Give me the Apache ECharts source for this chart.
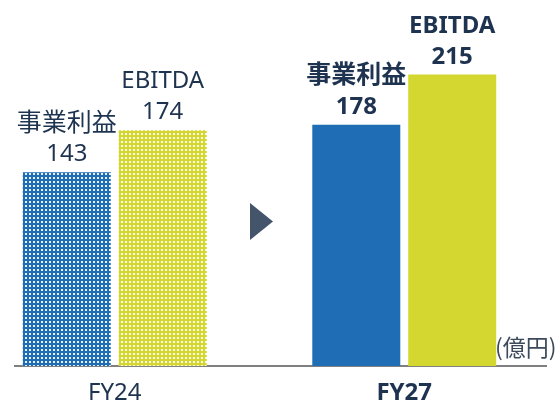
<!DOCTYPE html>
<html>
<head>
<meta charset="utf-8">
<title>事業利益 / EBITDA</title>
<script src="https://cdn.jsdelivr.net/npm/echarts@6/dist/echarts.min.js"></script>
<style>
  html, body { margin: 0; padding: 0; background: #fff; }
  #main { width: 558px; height: 402px; }
</style>
</head>
<body>
<div id="main"></div>
<script>
  // data
  var categories = ['FY24', 'FY27'];
  var opProfit = [143, 178];   // 事業利益
  var ebitda = [174, 215];     // EBITDA
  var unitText = '(億円)';

  var textColor = '#1e3350';
  var blue = '#1f6db5';
  var yellow = '#d4d72f';

  // dotted fill for the FY24 bars
  function dots(color) {
    var c = document.createElement('canvas');
    c.width = 4; c.height = 4;
    var ctx = c.getContext('2d');
    ctx.fillStyle = color;
    ctx.fillRect(0, 0, 4, 4);
    ctx.fillStyle = 'rgba(255,255,255,0.9)';
    ctx.fillRect(1, 1, 2, 2);
    return { image: c, repeat: 'repeat' };
  }

  function items(values, color) {
    return values.map(function (v, i) {
      var first = i === 0;
      return {
        value: v,
        itemStyle: { color: first ? dots(color) : color },
        label: { fontWeight: first ? 'normal' : 'bold' }
      };
    });
  }

  function labelStyle(nameSize) {
    return {
      show: true,
      position: 'top',
      distance: 2,
      formatter: '{n|{a}}\n{c}',
      color: textColor,
      fontSize: 24,
      lineHeight: 31,
      fontFamily: '"Noto Sans", "Noto Sans CJK JP", sans-serif',
      rich: { n: { fontSize: nameSize, lineHeight: 31 } }
    };
  }

  var myChart = echarts.init(document.getElementById('main'));
  var option = {
    animation: false,
    grid: { left: -30, right: 9, top: 0, bottom: 36, outerBoundsMode: 'none' },
    xAxis: {
      type: 'category',
      data: categories.map(function (c, i) {
        return { value: c, textStyle: { fontWeight: i === 0 ? 'normal' : 'bold' } };
      }),
      axisLine: { show: false },
      axisTick: { show: false },
      axisLabel: {
        margin: 15,
        color: textColor,
        fontSize: 24,
        fontFamily: '"Noto Sans", sans-serif'
      }
    },
    yAxis: { type: 'value', min: 0, max: 270, show: false },
    series: [
      {
        name: '事業利益',
        type: 'bar',
        barWidth: 88,
        barGap: '9%',
        data: items(opProfit, blue),
        label: labelStyle(25)
      },
      {
        name: 'EBITDA',
        type: 'bar',
        barWidth: 88,
        barGap: '9%',
        data: items(ebitda, yellow),
        label: labelStyle(24)
      }
    ],
    graphic: [
      {
        type: 'line',
        shape: { x1: 14, y1: 366, x2: 547, y2: 366 },
        style: { stroke: '#808080', lineWidth: 2 }
      },
      {
        type: 'polygon',
        shape: { points: [[250, 203], [250, 240], [273, 221.5]] },
        style: { fill: '#44546a' }
      },
      {
        type: 'text',
        left: 495,
        top: 336,
        style: {
          text: unitText,
          fill: '#3c4a5c',
          fontSize: 23,
          fontFamily: '"Noto Sans CJK JP", sans-serif'
        }
      }
    ]
  };
  myChart.setOption(option);
</script>
</body>
</html>
